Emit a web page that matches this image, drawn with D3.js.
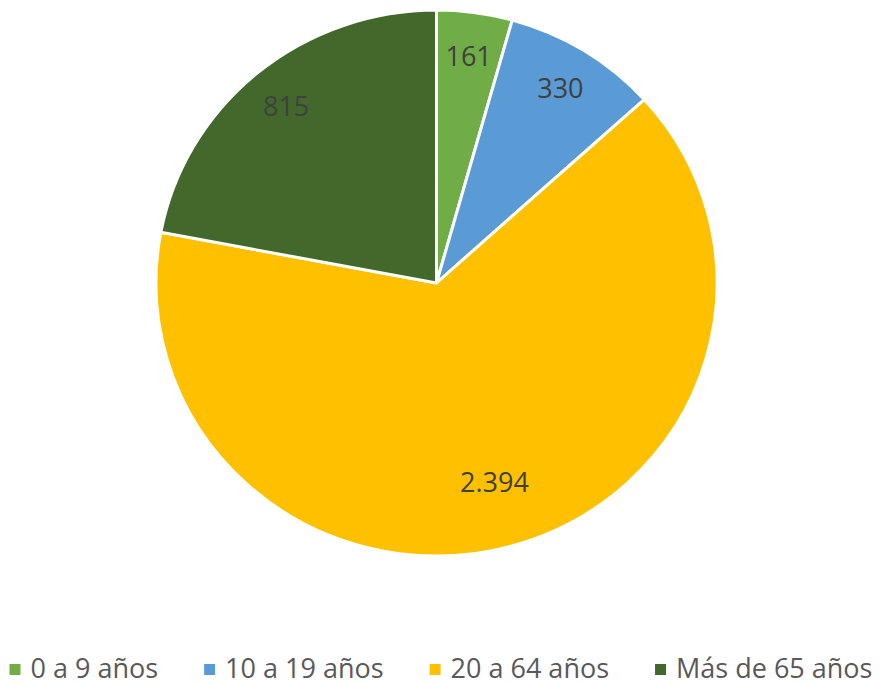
<!DOCTYPE html>
<html>
<head>
<meta charset="utf-8">
<script src="https://cdn.jsdelivr.net/npm/d3@7"></script>
<style>
  html, body { margin: 0; padding: 0; background: #fff; }
  svg { display: block; }
  text { font-family: "Open Sans", sans-serif; }
</style>
</head>
<body>
<svg id="chart" width="882" height="685"></svg>
<script>
const categories = ["0 a 9 años", "10 a 19 años", "20 a 64 años", "Más de 65 años"];
const values = [161, 330, 2394, 815];
const valueLabels = ["161", "330", "2.394", "815"];
const colors = ["#70AD47", "#5B9BD5", "#FFC000", "#43682B"];

const W = 882, H = 685;
const cx = 436.5, cy = 283;
const rx = 280.5, ry = 273;
const sy = ry / rx;

const svg = d3.select("#chart");

const pie = d3.pie().sort(null).value(d => d)(values);
const arc = d3.arc().innerRadius(0).outerRadius(rx);

const g = svg.append("g")
  .attr("transform", `translate(${cx},${cy}) scale(1,${sy})`);

g.selectAll("path")
  .data(pie)
  .join("path")
  .attr("d", arc)
  .attr("fill", (d, i) => colors[i])
  .attr("stroke", "#fff")
  .attr("stroke-width", 3)
  .attr("vector-effect", "non-scaling-stroke")
  .attr("stroke-linejoin", "round");

// labels
const labelArcSmall = d3.arc().innerRadius(0).outerRadius(rx * 1.68);
const labelArcLarge = d3.arc().innerRadius(0).outerRadius(rx * 1.52);
const labelPos = d => (d.endAngle - d.startAngle > Math.PI ? labelArcLarge : labelArcSmall).centroid(d);
svg.append("g").selectAll("text")
  .data(pie)
  .join("text")
  .attr("x", d => cx + labelPos(d)[0])
  .attr("y", d => cy + labelPos(d)[1] * sy)
  .attr("dy", "0.36em")
  .attr("text-anchor", "middle")
  .attr("font-size", 27)
  .attr("fill", "#404040")
  .text((d, i) => valueLabels[i]);

// legend
const legend = svg.append("g").attr("class", "legend");
const items = legend.selectAll("g")
  .data(categories)
  .join("g");
items.append("rect")
  .attr("width", 11).attr("height", 11)
  .attr("y", -14)
  .attr("fill", (d, i) => colors[i]);
items.append("text")
  .attr("x", 21)
  .attr("font-size", 27)
  .attr("fill", "#595959")
  .text(d => d);

let x = 0;
const gap = 46;
const positions = [];
items.each(function () {
  const tw = d3.select(this).select("text").node().getComputedTextLength();
  positions.push(x);
  x += 21 + tw + gap;
});
const total = x - gap;
const startX = (W - total) / 2;
items.attr("transform", (d, i) => `translate(${startX + positions[i]},678)`);
</script>
</body>
</html>
